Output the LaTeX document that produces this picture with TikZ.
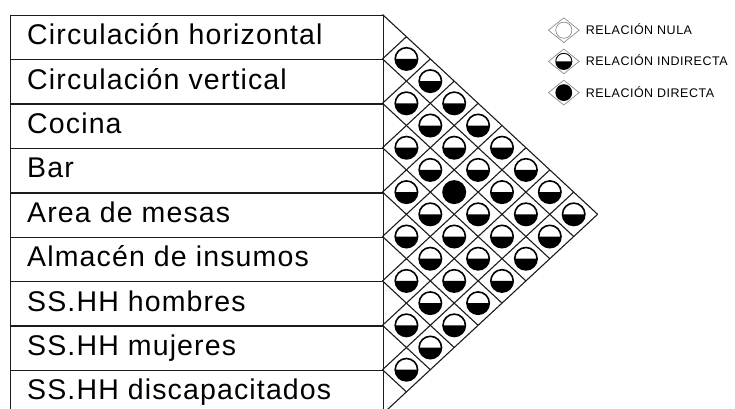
\documentclass[tikz,border=0pt]{standalone}
\usepackage{fontspec}
\setmainfont[LetterSpace=4]{Liberation Sans}
\usepackage{tikz}
\usetikzlibrary{calc,positioning,shapes.geometric}
\definecolor{linegray}{HTML}{1C1C1C}
\definecolor{legendgray}{HTML}{8C8C8C}

\begin{document}
\begin{tikzpicture}[x=1pt,y=1pt,
    rowbox/.style={draw=linegray,line width=1.4pt,minimum width=373pt,minimum height=44.4pt,anchor=north west,inner sep=0pt},
    rowtext/.style={anchor=west,inner sep=0pt,text height=20.4pt,text depth=0pt,font=\fontsize{28.5}{31}\selectfont},
    legbox/.style={draw=legendgray,line width=0.7pt,shape=diamond,minimum width=31pt,minimum height=25pt,inner sep=0pt},
    legtext/.style={inner sep=0pt,text height=9pt,text depth=0pt,font=\fontsize{12.5}{14}\selectfont},
    rel outline/.style={line width=1.6pt},
    relnula/.pic={\draw[legendgray,line width=0.7pt] (0,0) circle[radius=11.2];},
    relind/.pic={
      \fill (-11.2,0) arc[start angle=180,end angle=360,radius=11.2] -- cycle;
      \draw[rel outline] (0,0) circle[radius=11.2];},
    reldir/.pic={\fill (0,0) circle[radius=12];}
  ]
  \useasboundingbox (0,0) rectangle (735,-408);

  \foreach \name [count=\i] in {Circulación horizontal,Circulación vertical,Cocina,Bar,Area de mesas,Almacén de insumos,SS.HH hombres,SS.HH mujeres,SS.HH discapacitados} {
    \node[rowbox] (row\i) at (9.5,{-14.5-(\i-1)*44.4}) {};
    \node[rowtext] (lbl\i) at ($(row\i.west)+(17.5,3)$) {\name};
  }

  \begin{scope}[shift={(382.5pt,-14.5pt)},x=23.9pt,y=-22.2pt,draw=linegray,line width=1.1pt]
    \foreach \k in {0,...,8} \draw (0,2*\k) -- ({9-\k},{9+\k});
    \foreach \k in {1,...,9} \draw (0,2*\k) -- (\k,\k);
    \foreach \i in {1,...,8} {
      \pgfmathtruncatemacro\jmin{\i+1}
      \foreach \j in {\jmin,...,9}
        \coordinate (c\i-\j) at ({\j-\i},{\i+\j-1});
    }
  \end{scope}

  \foreach \i in {1,...,8} {
    \pgfmathtruncatemacro\jmin{\i+1}
    \foreach \j in {\jmin,...,9} {
      \ifnum\i\j=36 \pic at (c\i-\j) {reldir}; \else \pic at (c\i-\j) {relind}; \fi
    }
  }

  \node[legbox] (leg1) at (563.8,-30.2) {};
  \node[legbox] (leg2) at (563.8,-61.4) {};
  \node[legbox] (leg3) at (563.8,-92.6) {};
  \pic[scale=0.72] at (leg1.center) {relnula};
  \pic[scale=0.72,rel outline/.style={line width=0.9pt}] at (leg2.center) {relind};
  \pic[scale=0.7] at (leg3.center) {reldir};
  \node[legtext,right=6pt of leg1] (legtxt1) {RELACIÓN NULA};
  \node[legtext,right=6pt of leg2] (legtxt2) {RELACIÓN INDIRECTA};
  \node[legtext,right=6pt of leg3] (legtxt3) {RELACIÓN DIRECTA};
\end{tikzpicture}
\end{document}
